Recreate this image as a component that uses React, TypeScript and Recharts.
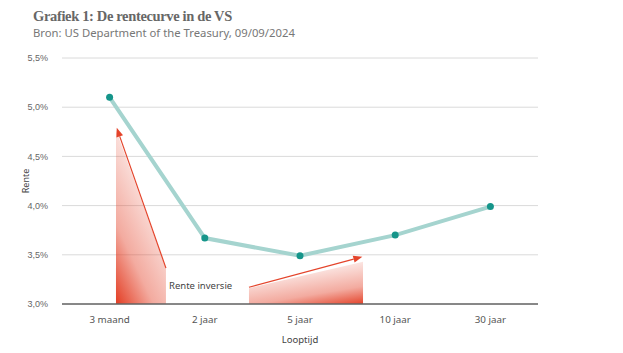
import React from 'react'
import { LineChart, Line, XAxis, YAxis, CartesianGrid, ReferenceArea, ReferenceLine } from 'recharts'

const categories = ['3 maand', '2 jaar', '5 jaar', '10 jaar', '30 jaar']
const rates = [5.1, 3.67, 3.49, 3.7, 3.99]
const yTicks = [3, 3.5, 4, 4.5, 5, 5.5]

// annotation: left wedge + arrow (x in category index units, y in %)
const leftWedgeX = [0.067, 0.592]
const leftWedgeTop = [4.77, 3.365]
const leftArrow = [
  { x: 0.592, y: 3.365 },
  { x: 0.075, y: 4.79 },
]
// right wedge + arrow
const rightWedgeX = [1.464, 2.662]
const rightWedgeTop = [3.16, 3.43]
const rightArrow = [
  { x: 1.464, y: 3.17 },
  { x: 2.655, y: 3.48 },
]

const data = categories.map((name, i) => ({ idx: i, name, rate: rates[i] }))

const RED = '#e4442b'

const fmtPct = (v: number) => v.toFixed(1).replace('.', ',') + '%'

function wedgeShape(id: string, y1: number, y2: number, tops: number[], grad: number[]) {
  return (p: any) => {
    const { x, y, width, height } = p
    const py = (v: number) => y + (height * (y2 - v)) / (y2 - y1)
    const pts = [
      [x, y + height],
      [x, py(tops[0])],
      [x + width, py(tops[1])],
      [x + width, y + height],
    ]
    return (
      <g>
        <defs>
          <linearGradient id={id} x1={grad[0]} y1={grad[1]} x2={grad[2]} y2={grad[3]}>
            <stop offset="0%" stopColor={RED} stopOpacity={1} />
            <stop offset="35%" stopColor={RED} stopOpacity={0.45} />
            <stop offset="100%" stopColor={RED} stopOpacity={0.03} />
          </linearGradient>
        </defs>
        <polygon points={pts.map((q) => q.join(',')).join(' ')} fill={`url(#${id})`} />
      </g>
    )
  }
}

const arrowShape = (p: any) => {
  const { x1, y1, x2, y2 } = p
  const ang = Math.atan2(y2 - y1, x2 - x1)
  const len = 9
  const w = 3.5
  const bx = x2 - len * Math.cos(ang)
  const by = y2 - len * Math.sin(ang)
  const nx = -Math.sin(ang) * w
  const ny = Math.cos(ang) * w
  return (
    <g>
      <line x1={x1} y1={y1} x2={bx} y2={by} stroke={RED} strokeWidth={1.2} />
      <polygon points={`${x2},${y2} ${bx + nx},${by + ny} ${bx - nx},${by - ny}`} fill={RED} />
    </g>
  )
}

export default function App() {
  return (
    <div style={{ position: 'absolute', left: 0, top: 0, width: 623, height: 353, background: '#fff' }}>
      <div
        style={{
          position: 'absolute',
          left: 33,
          top: 8,
          fontFamily: '"Liberation Serif", serif',
          fontWeight: 700,
          fontSize: 14.5,
          letterSpacing: -0.35,
          color: '#676767',
          whiteSpace: 'nowrap',
        }}
      >
        Grafiek 1: De rentecurve in de VS
      </div>
      <div
        style={{
          position: 'absolute',
          left: 33,
          top: 25,
          fontFamily: '"Noto Sans", sans-serif',
          fontSize: 11.3,
          color: '#777',
          whiteSpace: 'nowrap',
        }}
      >
        Bron: US Department of the Treasury, 09/09/2024
      </div>
      <div
        style={{
          position: 'absolute',
          left: 25,
          top: 181,
          transform: 'translate(-50%, -50%) rotate(-90deg)',
          fontFamily: '"Noto Sans", sans-serif',
          fontSize: 9,
          color: '#444',
        }}
      >
        Rente
      </div>
      <div
        style={{
          position: 'absolute',
          left: 169,
          top: 279,
          fontFamily: '"Noto Sans", sans-serif',
          fontSize: 9.5,
          color: '#444',
          whiteSpace: 'nowrap',
        }}
      >
        Rente inversie
      </div>
      <LineChart width={623} height={353} data={data} margin={{ top: 58, right: 85, left: 0, bottom: 4 }}>
        <CartesianGrid horizontal vertical={false} stroke="#dadada" />
        <XAxis
          dataKey="idx"
          type="number"
          domain={[-0.5, 4.5]}
          ticks={[0, 1, 2, 3, 4]}
          tickFormatter={(i: number) => categories[i]}
          height={45}
          axisLine={{ stroke: '#666', strokeWidth: 1.5 }}
          tickLine={false}
          tickMargin={6}
          tick={{ fontSize: 9.8, fill: '#555', fontFamily: '"Noto Sans", sans-serif' }}
          label={{ value: 'Looptijd', position: 'insideBottom', offset: 6, fontSize: 9.5, fill: '#444', fontFamily: '"Noto Sans", sans-serif' }}
        />
        <YAxis
          domain={[3, 5.5]}
          ticks={yTicks}
          width={62}
          axisLine={false}
          tickLine={false}
          tickMargin={8}
          tickFormatter={fmtPct}
          tick={{ fontSize: 9, fill: '#666', fontFamily: '"Liberation Sans", sans-serif' }}
        />
        <ReferenceArea
          x1={leftWedgeX[0]}
          x2={leftWedgeX[1]}
          y1={3}
          y2={leftWedgeTop[0]}
          shape={wedgeShape('gl', 3, leftWedgeTop[0], leftWedgeTop, [0.05, 1, 0.6, 0.1])}
        />
        <ReferenceArea
          x1={rightWedgeX[0]}
          x2={rightWedgeX[1]}
          y1={3}
          y2={rightWedgeTop[1]}
          shape={wedgeShape('gr', 3, rightWedgeTop[1], rightWedgeTop, [1, 1, 0.55, 0])}
        />
        <ReferenceLine segment={leftArrow} shape={arrowShape} />
        <ReferenceLine segment={rightArrow} shape={arrowShape} />
        <Line
          dataKey="rate"
          stroke="#a5d4cf"
          strokeWidth={4}
          dot={{ r: 3.5, fill: '#15958a', stroke: 'none' }}
          activeDot={false}
          isAnimationActive={false}
        />
      </LineChart>
    </div>
  )
}
